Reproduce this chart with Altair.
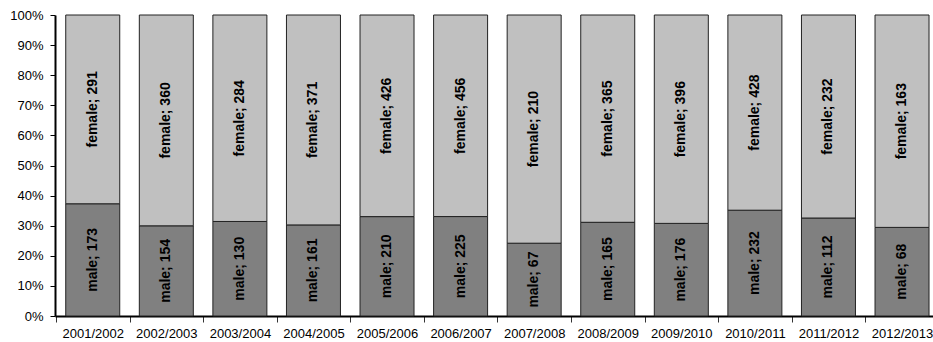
import altair as alt
import pandas as pd

years = ["2001/2002", "2002/2003", "2003/2004", "2004/2005", "2005/2006", "2006/2007",
         "2007/2008", "2008/2009", "2009/2010", "2010/2011", "2011/2012", "2012/2013"]
male = [173, 154, 130, 161, 210, 225, 67, 165, 176, 232, 112, 68]
female = [291, 360, 284, 371, 426, 456, 210, 365, 396, 428, 232, 163]
sexes = ["male", "female"]
colors = ["#808080", "#c0c0c0"]
yticks = [0, 0.1, 0.2, 0.3, 0.4, 0.5, 0.6, 0.7, 0.8, 0.9, 1.0]

rows = []
for i, y in enumerate(years):
    rows.append({"year": y, "sex": "male", "order": 0, "count": male[i], "label": f"male; {male[i]}"})
    rows.append({"year": y, "sex": "female", "order": 1, "count": female[i], "label": f"female; {female[i]}"})
df = pd.DataFrame(rows)

FONT = "Liberation Sans"
STEP = 878 / (12 - 0.266 + 0.2)

xscale = alt.Scale(paddingInner=0.266, paddingOuter=0.1, align=0.73)
yscale = alt.Scale(domain=[0, 1], nice=False)

xaxis = alt.Axis(labelAngle=0, ticks=True, tickSize=6, tickColor="#333333",
                 tickWidth=1, tickOffset=-STEP / 2, labelOffset=STEP / 2,
                 domain=True, domainColor="black",
                 domainWidth=2, labelFont=FONT, labelFontSize=13,
                 labelColor="black", labelPadding=5, grid=False,
                 labelOverlap=False, title=None)
yaxis = alt.Axis(values=yticks, format=".0%",
                 tickColor="black", tickSize=5, tickWidth=1,
                 domainColor="black", domainWidth=2, labelFont=FONT,
                 labelFontSize=13, labelColor="black", labelPadding=7, grid=False,
                 labelOverlap=False, labelFlush=False, title=None)

base = alt.Chart(df).transform_stack(
    stack="count", groupby=["year"], as_=["y0", "y1"], offset="normalize",
    sort=[alt.SortField("order", order="ascending")]
).transform_calculate(mid="(datum.y0 + datum.y1) / 2")

bars = base.mark_bar(stroke="#222222", strokeWidth=1).encode(
    x=alt.X("year:N", sort=years, scale=xscale, axis=xaxis),
    y=alt.Y("y0:Q", scale=yscale, axis=yaxis),
    y2="y1:Q",
    color=alt.Color("sex:N", scale=alt.Scale(domain=sexes, range=colors), legend=None),
)

texts = base.mark_text(angle=270, font=FONT, fontSize=14, fontWeight="bold",
                       color="black", align="center", baseline="middle").encode(
    x=alt.X("year:N", sort=years, scale=xscale, axis=xaxis),
    y=alt.Y("mid:Q", scale=yscale, axis=yaxis),
    text="label:N",
)

chart = alt.layer(bars, texts).properties(
    width=878, height=301,
    autosize=alt.AutoSizeParams(type="none"),
    padding={"left": 55, "top": 15, "right": 0, "bottom": 26},
).configure_view(stroke=None)

chart.save("out.html", embed_options={"renderer": "svg", "actions": False})
